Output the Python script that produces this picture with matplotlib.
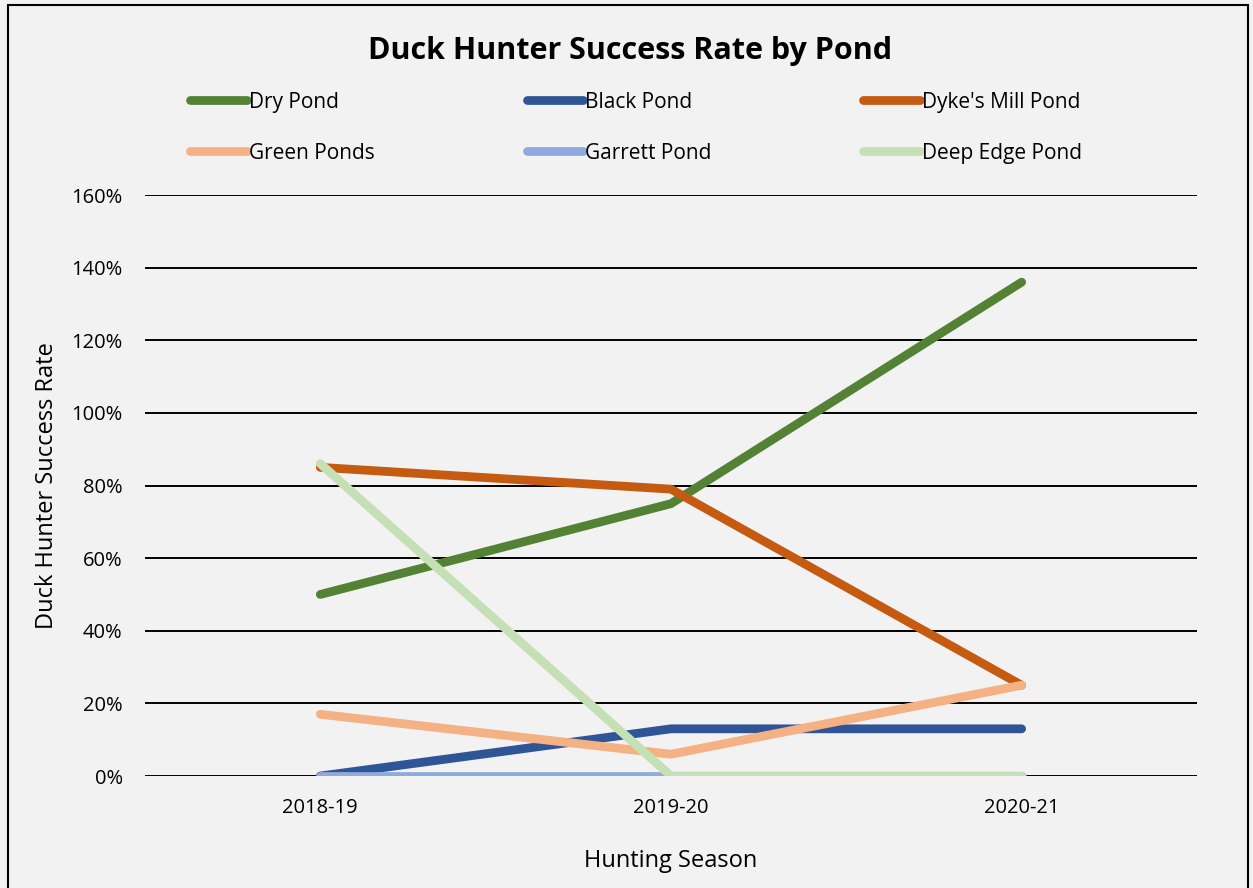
import matplotlib
matplotlib.use("Agg")
import matplotlib.pyplot as plt
from matplotlib.patches import Rectangle
from matplotlib.ticker import PercentFormatter

seasons = ["2018-19", "2019-20", "2020-21"]

dry_pond = [0.50, 0.75, 1.36]
black_pond = [0.00, 0.13, 0.13]
dykes_mill_pond = [0.85, 0.79, 0.25]
green_ponds = [0.17, 0.06, 0.25]
garrett_pond = [0.00, 0.00, 0.00]
deep_edge_pond = [0.86, 0.00, 0.00]

series = [
    ("Dry Pond", dry_pond, "#548235"),
    ("Black Pond", black_pond, "#2F5597"),
    ("Dyke's Mill Pond", dykes_mill_pond, "#C55A11"),
    ("Green Ponds", green_ponds, "#F4B183"),
    ("Garrett Pond", garrett_pond, "#8FAADC"),
    ("Deep Edge Pond", deep_edge_pond, "#C5E0B4"),
]

plt.rcParams["font.family"] = ["Open Sans", "DejaVu Sans"]
bg = "#F2F2F2"

fig = plt.figure(figsize=(12.53, 8.88), dpi=100, facecolor=bg)
ax = fig.add_axes([0.1157, 0.1261, 0.8396, 0.6543], facecolor=bg)

# outer chart border
fig.patches.append(Rectangle((0.0065, -0.05), 0.9895, 1.044,
                             transform=fig.transFigure, fill=False,
                             edgecolor="black", linewidth=1.5))

x = list(range(len(seasons)))
handles = {}
for name, vals, color in series:
    (ln,) = ax.plot(x, vals, color=color, linewidth=6.3,
                    solid_capstyle="round", solid_joinstyle="round",
                    label=name)
    handles[name] = ln

ax.set_xlim(-0.5, 2.5)
ax.set_ylim(0, 1.6)
ax.set_yticks([i * 0.2 for i in range(9)])
ax.yaxis.set_major_formatter(PercentFormatter(1.0, decimals=0))
ax.set_xticks(x)
ax.set_xticklabels(seasons)
ax.tick_params(length=0, labelsize=14.5)
ax.tick_params(axis="y", pad=16)
ax.tick_params(axis="x", pad=16)
ax.grid(axis="y", color="black", linewidth=1.4)
ax.set_axisbelow(True)
for s in ax.spines.values():
    s.set_visible(False)

ax.set_ylabel("Duck Hunter Success Rate", fontsize=17, labelpad=9)
ax.set_xlabel("Hunting Season", fontsize=17, labelpad=22)

fig.text(0.503, 0.943, "Duck Hunter Success Rate by Pond",
         ha="center", va="center", fontsize=22, fontweight="bold")

# legend laid out row-wise in three columns
order = ["Dry Pond", "Green Ponds", "Black Pond", "Garrett Pond",
         "Dyke's Mill Pond", "Deep Edge Pond"]
fig.legend([handles[n] for n in order], order, ncol=3,
           loc="upper left", bbox_to_anchor=(0.137, 0.918),
           frameon=False, fontsize=15, handlelength=2.7,
           handletextpad=0.1, columnspacing=7.3, labelspacing=1.45)

fig.savefig("out.png", dpi=100, facecolor=bg)
